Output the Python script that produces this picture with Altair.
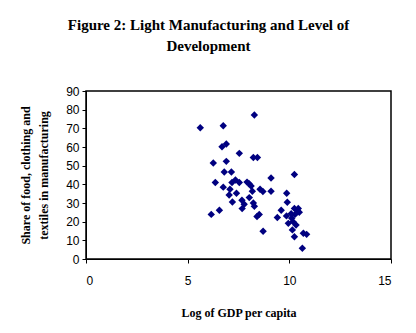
import altair as alt
import pandas as pd

log_gdp = [5.62, 6.75, 8.28, 6.69, 6.90, 7.54, 6.26, 6.90, 8.23, 8.43,
           10.25, 6.80, 7.15, 9.10, 6.36, 6.75, 7.18, 7.35, 7.54, 7.92,
           8.02, 8.12, 7.08, 8.56, 8.70, 9.10, 8.18, 7.04, 7.40, 9.87,
           8.03, 7.67, 7.20, 8.23, 9.90, 7.78, 8.28, 7.68, 6.56, 6.16,
           8.52, 8.41, 9.60, 9.41, 8.71, 10.25, 10.44, 10.49, 10.09, 10.28,
           9.86, 10.12, 9.95, 10.33, 10.15, 10.25, 10.69, 10.85, 10.64, 10.18,
           10.40]
share = [70.3, 71.4, 77.1, 60.1, 61.6, 56.6, 51.4, 52.3, 54.4, 54.4,
         45.3, 46.6, 46.6, 43.4, 41.0, 38.5, 41.0, 42.3, 41.0, 41.2,
         40.3, 39.1, 37.4, 37.4, 36.2, 36.3, 36.3, 34.3, 35.2, 35.2,
         32.9, 31.5, 30.5, 30.0, 30.4, 29.3, 28.2, 27.0, 26.1, 23.9,
         23.9, 22.8, 26.1, 22.2, 14.9, 27.1, 27.1, 25.0, 24.3, 23.9,
         23.1, 21.8, 19.1, 18.2, 15.6, 11.9, 13.8, 13.2, 5.8, 20.0,
         26.0]

df = pd.DataFrame({"x": log_gdp, "y": share})

serif = "Liberation Serif"
sans = "Liberation Sans"

chart = alt.Chart(df).mark_point(
    shape="diamond", filled=True, color="#000080", opacity=1, size=55
).encode(
    x=alt.X("x:Q", scale=alt.Scale(domain=[0, 15], nice=False),
            axis=alt.Axis(values=[0, 5, 10, 15], title="Log of GDP per capita",
                          grid=False, tickSize=4, labelPadding=12,
                          titlePadding=21)),
    y=alt.Y("y:Q", scale=alt.Scale(domain=[0, 90], nice=False),
            axis=alt.Axis(values=list(range(0, 91, 10)),
                          title=["Share of food, clothing and", "textiles in manufacturing"],
                          grid=False, tickSize=4, labelPadding=3,
                          titlePadding=15, titleLineHeight=18)),
).properties(
    width=305, height=168,
    title=alt.TitleParams(
        text=["Figure 2: Light Manufacturing and Level of", "Development"],
        font=serif, fontSize=15, fontWeight="bold", color="black",
        anchor="middle", dx=-30, offset=31, lineHeight=21,
    ),
    autosize=alt.AutoSizeParams(type="none"),
    padding={"left": 86, "top": 91, "right": 25, "bottom": 74},
).configure_view(
    stroke="black", strokeWidth=1.5
).configure_axis(
    domainColor="black", tickColor="black", labelColor="black",
    titleColor="black", labelFont=sans, labelFontSize=12,
    titleFont=serif, titleFontSize=12, titleFontWeight="bold",
    domainWidth=1, tickWidth=1,
)

chart.save("out.html", embed_options={"renderer": "svg", "actions": False})
